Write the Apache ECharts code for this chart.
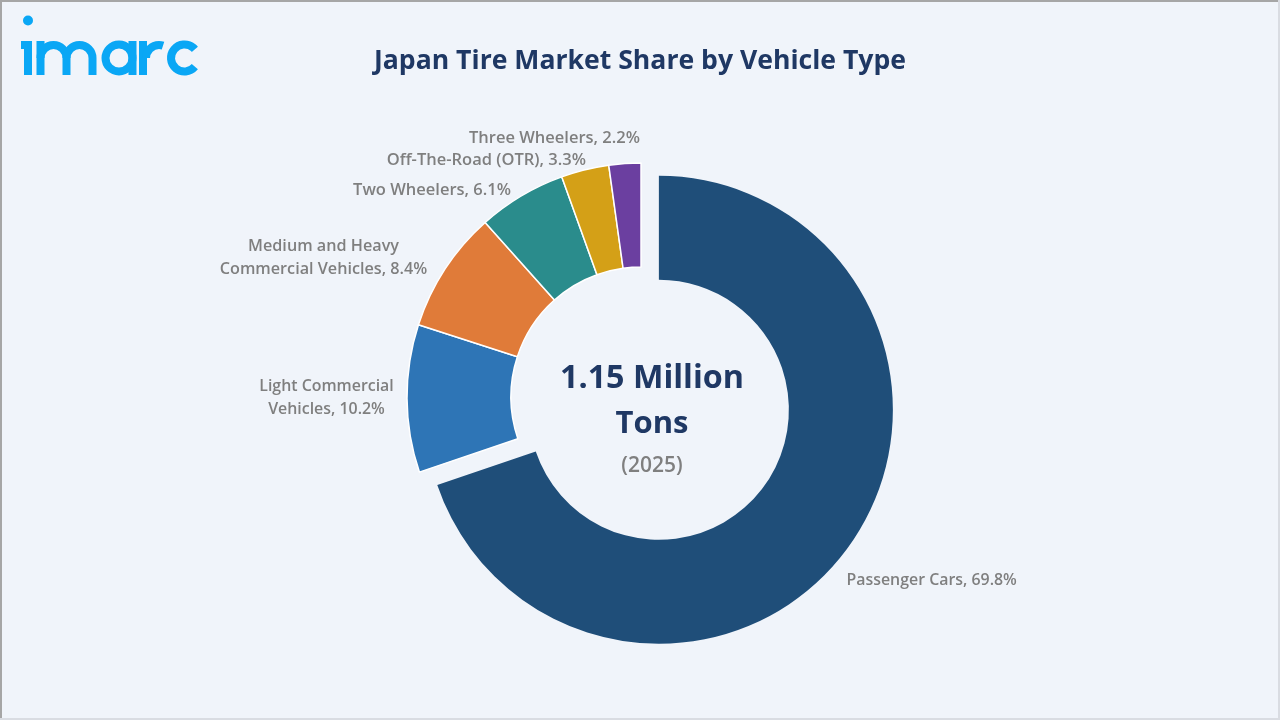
<!DOCTYPE html>
<html>
<head>
<meta charset="utf-8">
<style>html,body{margin:0;padding:0;background:#F0F4FA;}#c{width:1280px;height:720px;}</style>
<script src="https://cdn.jsdelivr.net/npm/echarts@6/dist/echarts.min.js"></script>
</head>
<body>
<div id="c"></div>
<script>
var categories = ['Passenger Cars','Light Commercial\nVehicles','Medium and Heavy\nCommercial Vehicles','Two Wheelers','Off-The-Road (OTR)','Three Wheelers'];
var shares = [69.8,10.2,8.4,6.1,3.3,2.2];
var colors = ['#1F4E79','#2E75B6','#E07B39','#2A8C8C','#D4A017','#6B3FA0'];
var labelAnchors = [[847,579,'left'],[326.5,398,'center'],[323.5,258,'center'],[511,190,'right'],[586,160,'right'],[640,138,'right']];
var labelSizes = [15.9,15.9,16.2,16.5,16.5,16.5];

var chart = echarts.init(document.getElementById('c'));
var FONT = '"Open Sans"';
var LOGO = '#0AA7F5';
var PI = Math.PI;
function bar(x,y,w,h){return {type:'rect',silent:true,shape:{x:x,y:y,width:w,height:h},style:{fill:LOGO}};}
function arc(cx,cy,r,a0,a1){return {type:'arc',silent:true,shape:{cx:cx,cy:cy,r:r,startAngle:a0,endAngle:a1,clockwise:true},style:{fill:'none',stroke:LOGO,lineWidth:8}};}
function edge(x1,y1,x2,y2,c){return {type:'line',silent:true,shape:{x1:x1,y1:y1,x2:x2,y2:y2},style:{stroke:c,lineWidth:2}};}
var logo = [
  {type:'circle',silent:true,shape:{cx:28,cy:20.5,r:5},style:{fill:LOGO}},
  bar(24,41,8,34), bar(21,41,4,8),
  bar(36.5,41,8,34), arc(53.5,58,13,PI,2*PI), bar(62.5,58,8,17), arc(79.5,58,13,PI,2*PI), bar(88.5,58,8,17),
  arc(119,58,13.5,0,2*PI), bar(128.5,41,8,34),
  bar(139,41,8,34), arc(159,58,13,PI,1.6*PI),
  arc(184.5,58,13.5,40*PI/180,320*PI/180)
];
chart.setOption({
  backgroundColor:'#F0F4FA',
  animation:false,
  title:{text:'Japan Tire Market Share by Vehicle Type',left:635,top:43,textAlign:'center',
    textStyle:{fontFamily:FONT,fontWeight:700,fontSize:26.6,color:'#1F3864'}},
  series:[{
    type:'pie',
    center:[641,397],
    radius:[130,234],
    startAngle:90,
    clockwise:true,
    selectedMode:'single',
    selectedOffset:22,
    avoidLabelOverlap:false,
    itemStyle:{borderColor:'#FFFFFF',borderWidth:1.5},
    label:{show:true,position:'outside',fontFamily:FONT,fontWeight:600,fontSize:16.5,color:'#7F7F7F',lineHeight:23,
      formatter:function(p){return p.name+', '+p.value.toFixed(1)+'%';}},
    labelLine:{show:false},
    emphasis:{disabled:true},
    labelLayout:function(p){
      var a = labelAnchors[p.dataIndex];
      return {x:a[0],y:a[1],align:a[2],verticalAlign:'middle'};
    },
    data:categories.map(function(n,i){
      return {name:n,value:shares[i],selected:i===0,
        label:{fontSize:labelSizes[i]},
        labelLine:i===0?{show:false,length:58.4,length2:-55}:{show:false},
        itemStyle:{color:colors[i],borderWidth:i===0?0:1.5}};
    })
  }],
  graphic:[
    edge(0,1,1280,1,'#A6A6A6'), edge(1,0,1,720,'#A6A6A6'),
    edge(1279,0,1279,720,'#D9DCE2'), edge(0,719,1280,719,'#D9DCE2'),
    {type:'text',silent:true,x:652,y:379,style:{text:'1.15 Million',font:'700 32.3px '+FONT,fill:'#1F3864',textAlign:'center',textVerticalAlign:'middle'}},
    {type:'text',silent:true,x:652,y:424,style:{text:'Tons',font:'700 31px '+FONT,fill:'#1F3864',textAlign:'center',textVerticalAlign:'middle'}},
    {type:'text',silent:true,x:652,y:466,style:{text:'(2025)',font:'600 21px '+FONT,fill:'#7F7F7F',textAlign:'center',textVerticalAlign:'middle'}}
  ].concat(logo)
});
</script>
</body>
</html>
